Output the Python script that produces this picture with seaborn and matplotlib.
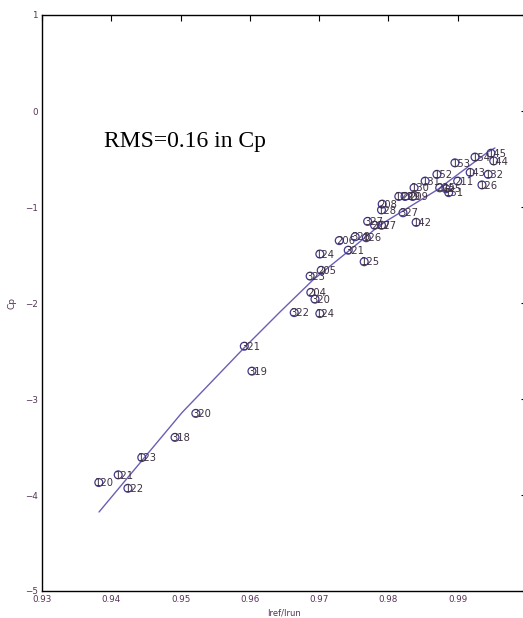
import matplotlib
matplotlib.use("Agg")
import matplotlib.pyplot as plt
import seaborn as sns
import pandas as pd

# Data
labels = ["120", "121", "122", "123", "318", "320", "321", "319", "322", "124",
          "204", "320", "323", "205", "124", "125", "321", "206", "328", "126",
          "327", "227", "127", "208", "128", "327", "129", "229", "209", "142",
          "130", "131", "152", "225", "125", "151", "211", "153", "154", "145",
          "144", "143", "132", "126"]
iref_irun = [0.9382, 0.9410, 0.9424, 0.9444, 0.9492, 0.9522, 0.9592, 0.9603, 0.9664, 0.9701,
             0.9688, 0.9694, 0.9687, 0.9703, 0.9701, 0.9765, 0.9742, 0.9729, 0.9752, 0.9768,
             0.9770, 0.9780, 0.9790, 0.9791, 0.9790, 0.9821, 0.9815, 0.9824, 0.9835, 0.9840,
             0.9837, 0.9853, 0.9870, 0.9874, 0.9883, 0.9887, 0.9900, 0.9896, 0.9925, 0.9948,
             0.9952, 0.9918, 0.9944, 0.9935]
cp = [-3.87, -3.79, -3.93, -3.61, -3.40, -3.15, -2.45, -2.71, -2.10, -2.11,
      -1.89, -1.96, -1.72, -1.66, -1.49, -1.57, -1.45, -1.35, -1.31, -1.32,
      -1.15, -1.19, -1.19, -0.97, -1.03, -1.06, -0.89, -0.89, -0.89, -1.16,
      -0.80, -0.73, -0.66, -0.80, -0.81, -0.85, -0.73, -0.54, -0.48, -0.44,
      -0.52, -0.64, -0.66, -0.77]

fit_x = [0.93823, 0.95020, 0.95915, 0.96434, 0.96911, 0.97444, 0.97877,
         0.98700, 0.99436, 0.99537]
fit_cp = [-4.177, -3.142, -2.469, -2.094, -1.760, -1.448, -1.188,
          -0.823, -0.427, -0.385]

x_ticks = [0.93, 0.94, 0.95, 0.96, 0.97, 0.98, 0.99, 1.00]
x_tick_labels = ["0.93", "0.94", "0.95", "0.96", "0.97", "0.98", "0.99", ""]
y_ticks = [-5, -4, -3, -2, -1, 0, 1]

pts = pd.DataFrame({"x": iref_irun, "cp": cp, "label": labels})
fit = pd.DataFrame({"x": fit_x, "cp": fit_cp})

sns.set_style("white")
plt.rcParams["font.family"] = ["DejaVu Sans"]

fig = plt.figure(figsize=(5.23, 6.18), dpi=100)
ax = fig.add_axes([42 / 523, 27 / 618, 485 / 523, 576 / 618])

sns.lineplot(data=fit, x="x", y="cp", sort=False, color="#6a5fb5", linewidth=1.0, ax=ax)
sns.scatterplot(data=pts, x="x", y="cp", ax=ax, s=32, marker="o",
                facecolor="none", edgecolor="#443a88", linewidth=0.9, zorder=3)

for xv, yv, lab in zip(pts["x"], pts["cp"], pts["label"]):
    ax.annotate(lab, (xv, yv), xytext=(-2.5, -0.5), textcoords="offset points",
                fontsize=7.2, color="#3e3040", ha="left", va="center", zorder=4)

ax.text(0.93895, -0.3125, "RMS=0.16 in Cp", fontsize=17, family="Liberation Serif",
        color="black", ha="left", va="center")

ax.set_xlim(0.93, 1.0)
ax.set_ylim(-5, 1)
ax.set_xticks(x_ticks)
ax.set_xticklabels(x_tick_labels)
ax.set_yticks(y_ticks)
ax.tick_params(direction="in", length=4, width=0.8, top=True, right=True,
               labelsize=6.3, labelcolor="#553355", color="black", pad=3)
for s in ax.spines.values():
    s.set_color("black")
    s.set_linewidth(1.0)
ax.set_xlabel("Iref/Irun", fontsize=6, color="#553355", labelpad=3)
ax.set_ylabel("Cp", fontsize=6.5, color="#553355", labelpad=6)

fig.savefig("out.png", dpi=100)
